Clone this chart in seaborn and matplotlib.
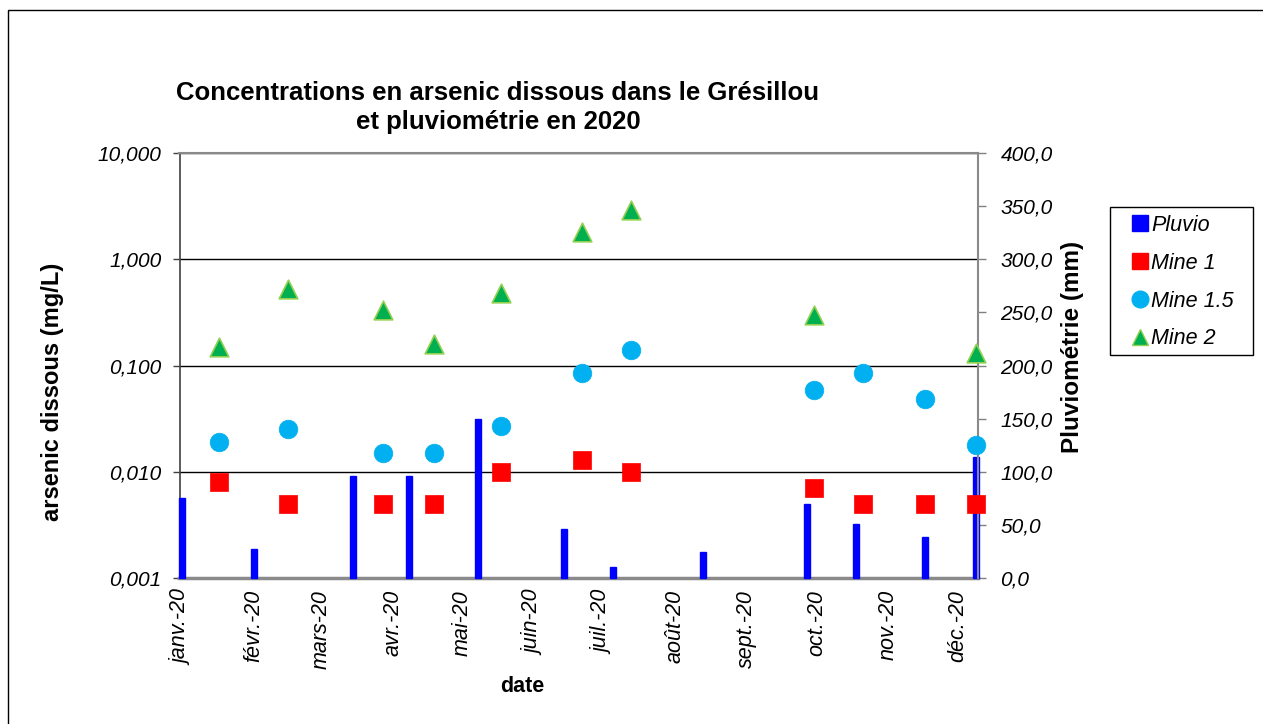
import numpy as np
import pandas as pd
import matplotlib
matplotlib.use("Agg")
import matplotlib.pyplot as plt
from matplotlib.lines import Line2D
from matplotlib.patches import Rectangle
from matplotlib.ticker import FixedLocator, FixedFormatter, NullLocator
import seaborn as sns

# Rainfall (mm) accumulated up to each date
pluvio_dates = ["2020-01-01", "2020-02-01", "2020-03-15", "2020-04-08", "2020-05-08",
                "2020-06-14", "2020-07-05", "2020-08-13", "2020-09-27", "2020-10-18",
                "2020-11-17", "2020-12-09"]
pluvio_mm = [75, 27, 96, 96, 150, 46, 10, 24, 69, 51, 38, 114]

# Dissolved arsenic (mg/L) at each sampling point
sample_dates = ["2020-01-17", "2020-02-16", "2020-03-28", "2020-04-19", "2020-05-18",
                "2020-06-22", "2020-07-13", "2020-09-30", "2020-10-21", "2020-11-17",
                "2020-12-09"]
mine_1 = [0.008, 0.005, 0.005, 0.005, 0.010, 0.013, 0.010, 0.007, 0.005, 0.005, 0.005]
mine_1_5 = [0.019, 0.025, 0.015, 0.015, 0.027, 0.085, 0.14, 0.059, 0.085, 0.048, 0.018]
mine_2 = [0.15, 0.53, 0.33, 0.16, 0.48, 1.8, 2.9, 0.30, np.nan, np.nan, 0.13]

month_starts = ["2020-01-01", "2020-02-01", "2020-03-01", "2020-04-01", "2020-05-01",
                "2020-06-01", "2020-07-01", "2020-08-01", "2020-09-01", "2020-10-01",
                "2020-11-01", "2020-12-01"]
month_labels = ["janv.-20", "févr.-20", "mars-20", "avr.-20", "mai-20", "juin-20",
                "juil.-20", "août-20", "sept.-20", "oct.-20", "nov.-20", "déc.-20"]

left_ticks = [0.001, 0.01, 0.1, 1, 10]
left_tick_labels = ["0,001", "0,010", "0,100", "1,000", "10,000"]
right_ticks = [0, 50, 100, 150, 200, 250, 300, 350, 400]
right_tick_labels = ["0,0", "50,0", "100,0", "150,0", "200,0", "250,0", "300,0",
                     "350,0", "400,0"]

sns.set_style("white")
plt.rcParams["font.family"] = ["Liberation Sans", "DejaVu Sans"]
for key in ("text.color", "axes.labelcolor", "xtick.color", "ytick.color"):
    plt.rcParams[key] = "black"

W, H = 1263, 724
fig = plt.figure(figsize=(W / 100, H / 100), dpi=100)

left_px, right_px, top_px, bottom_px = 179.5, 978.3, 153.3, 577.7
rect = [left_px / W, 1 - bottom_px / H, (right_px - left_px) / W, (bottom_px - top_px) / H]

ax = fig.add_axes(rect)          # log axis (left) with gridlines
ax.set_yscale("log")
ax_rain = ax.twinx()             # rainfall bars (right axis)
ax_pts = fig.add_axes(rect, sharex=ax, sharey=ax)   # markers on top
ax_pts.set_axis_off()

x0 = pd.Timestamp("2019-12-31")
x1 = x0 + pd.Timedelta(days=344.9)

# rainfall bars
ax_rain.bar(pd.to_datetime(pluvio_dates), pluvio_mm, width=2.6, color="#0000FF",
            edgecolor="#0000FF", linewidth=1.0, zorder=2, clip_on=False)

# arsenic markers
series = [
    ("Mine 1", mine_1, "s", "#FF0000", "#FF0000", 0.5),
    ("Mine 1.5", mine_1_5, "o", "#00B0F0", "#00B0F0", 0.5),
    ("Mine 2", mine_2, "^", "#00B050", "#92D050", 1.2),
]
for name, vals, mk, fc, ec, lw in series:
    df = pd.DataFrame({"date": pd.to_datetime(sample_dates), "value": vals}).dropna()
    sns.scatterplot(data=df, x="date", y="value", ax=ax_pts, marker=mk, s=180,
                    color=fc, edgecolor=ec, linewidth=lw, legend=False, clip_on=False,
                    zorder=3)

ax.set_xlim(x0, x1)
ax.set_ylim(0.001, 10)
ax_rain.set_ylim(0, 400)

# x axis
ax.xaxis.set_major_locator(FixedLocator(
    [matplotlib.dates.date2num(pd.Timestamp(d)) for d in month_starts]))
ax.xaxis.set_major_formatter(FixedFormatter(month_labels))
ax.tick_params(axis="x", length=0, pad=9, labelsize=15.5, labelrotation=90)
for t in ax.get_xticklabels():
    t.set_fontstyle("italic")

# left log axis
ax.yaxis.set_major_locator(FixedLocator(left_ticks))
ax.yaxis.set_major_formatter(FixedFormatter(left_tick_labels))
ax.yaxis.set_minor_locator(NullLocator())
ax.tick_params(axis="y", which="major", direction="out", length=5, width=1,
               color="#404040", pad=8, labelsize=15, left=True)
for t in ax.get_yticklabels():
    t.set_fontstyle("italic")
ax.yaxis.grid(True, which="major", color="black", linewidth=1)
ax.xaxis.grid(False)

# right rainfall axis
ax_rain.yaxis.set_major_locator(FixedLocator(right_ticks))
ax_rain.yaxis.set_major_formatter(FixedFormatter(right_tick_labels))
ax_rain.tick_params(axis="y", direction="out", length=6, width=1, color="#808080",
                    pad=10, labelsize=15, right=True)
for t in ax_rain.get_yticklabels():
    t.set_fontstyle("italic")
ax_rain.grid(False)

ax.set_xlabel("")
ax.set_ylabel("")
ax_rain.set_ylabel("")

for side in ("top", "bottom", "left", "right"):
    ax.spines[side].set_visible(True)
ax.spines["left"].set_color("#404040")
ax.spines["left"].set_linewidth(1.2)
ax.spines["top"].set_color("#8a8a8a")
ax.spines["top"].set_linewidth(1.5)
ax.spines["bottom"].set_color("#8a8a8a")
ax.spines["bottom"].set_linewidth(2.5)
ax.spines["right"].set_visible(False)
for side in ("top", "bottom", "left"):
    ax_rain.spines[side].set_visible(False)
ax_rain.spines["right"].set_color("#8a8a8a")
ax_rain.spines["right"].set_linewidth(1.5)

# titles and axis labels
fig.text(498 / W, 1 - 107.5 / H,
         "Concentrations en arsenic dissous dans le Grésillou\net pluviométrie en 2020",
         ha="center", va="center", fontsize=18.5, fontweight="bold", linespacing=1.3)
fig.text(53 / W, 1 - 392 / H, "arsenic dissous (mg/L)", rotation=90,
         ha="center", va="center", fontsize=17, fontweight="bold")
fig.text(1073 / W, 1 - 346.5 / H, "Pluviométrie (mm)", rotation=90,
         ha="center", va="center", fontsize=17.5, fontweight="bold")
fig.text(522 / W, 1 - 686 / H, "date", ha="center", va="center",
         fontsize=15.5, fontweight="bold")

# legend
handles = [
    Line2D([], [], linestyle="None", marker="s", markersize=12,
           markerfacecolor="#0000FF", markeredgecolor="#0000FF"),
    Line2D([], [], linestyle="None", marker="s", markersize=12,
           markerfacecolor="#FF0000", markeredgecolor="#FF0000"),
    Line2D([], [], linestyle="None", marker="o", markersize=12,
           markerfacecolor="#00B0F0", markeredgecolor="#00B0F0"),
    Line2D([], [], linestyle="None", marker="^", markersize=12,
           markerfacecolor="#00B050", markeredgecolor="#92D050", markeredgewidth=1),
]
labels = ["Pluvio", "Mine 1", "Mine 1.5", "Mine 2"]
leg = fig.legend(handles, labels, loc="upper left",
                 bbox_to_anchor=(1131 / W, 1 - 215 / H), bbox_transform=fig.transFigure,
                 frameon=False, prop={"size": 15.5, "style": "italic"},
                 labelspacing=0.78, handlelength=0.85, handletextpad=0.1,
                 borderpad=0, borderaxespad=0)

# legend box
fig.add_artist(Rectangle((1110 / W, 1 - 355 / H), 143 / W, 148 / H,
                         transform=fig.transFigure, fill=False,
                         edgecolor="black", linewidth=1))

# outer chart frame
fig.add_artist(Rectangle((8 / W, -0.1), 1.2, (H - 10) / H + 0.1,
                         transform=fig.transFigure, fill=False,
                         edgecolor="black", linewidth=1))

fig.savefig("out.png", dpi=100)
